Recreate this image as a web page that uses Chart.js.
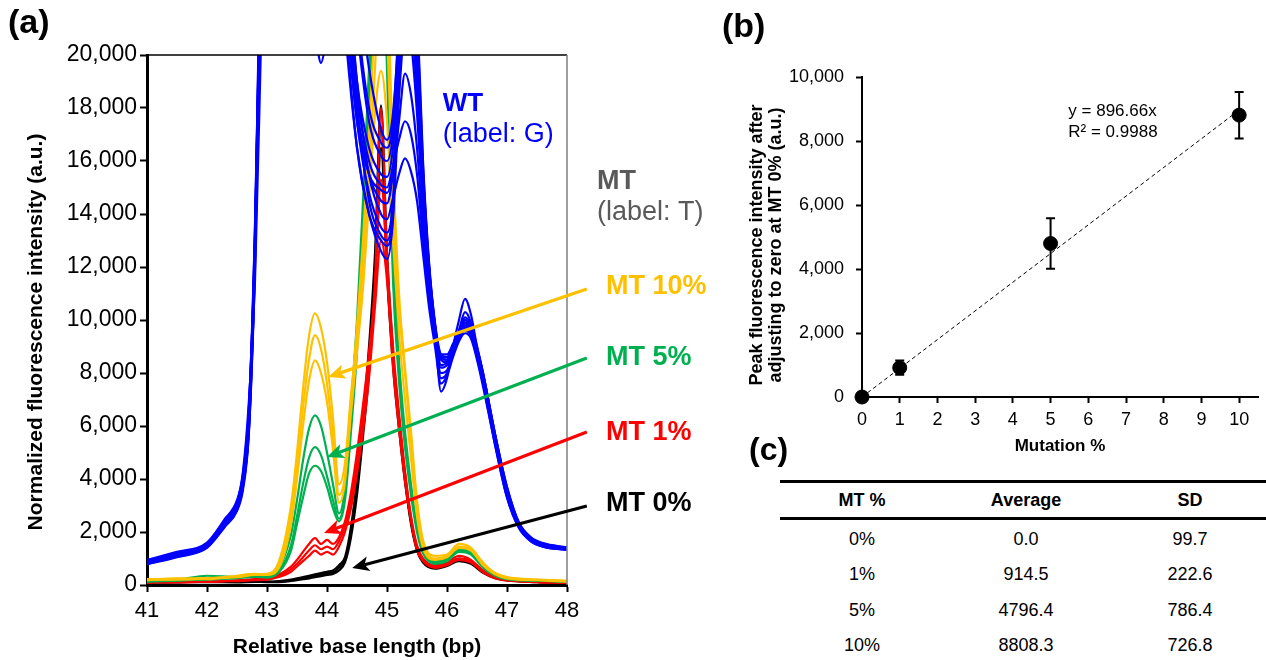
<!DOCTYPE html>
<html>
<head>
<meta charset="utf-8">
<script src="https://cdn.jsdelivr.net/npm/chart.js@4.4.1/dist/chart.umd.min.js"></script>
<style>
  html, body { margin: 0; padding: 0; background: #fff; }
  body { width: 1266px; height: 660px; position: relative; overflow: hidden;
         font-family: 'Liberation Sans', Arial, sans-serif; color: #000; }
  #boxA { position: absolute; left: 0; top: 0; width: 720px; height: 660px; }
  #boxB { position: absolute; left: 700px; top: 0; width: 566px; height: 470px; }
  .panel { position: absolute; font-weight: bold; font-size: 34px; line-height: 34px; }
  .rule { position: absolute; left: 780px; width: 492px; height: 3px; background: #000; }
  .row { position: absolute; left: 780px; width: 492px; height: 36px; line-height: 36px;
         display: flex; font-size: 18px; }
  .row div { width: 164px; text-align: center; }
  .head { font-weight: bold; }
</style>
</head>
<body>
<div id="boxA"><canvas id="chartA"></canvas></div>
<div id="boxB"><canvas id="chartB"></canvas></div>
<div class="panel" style="left:8px; top:4px;">(a)</div>
<div class="panel" style="left:722px; top:8px;">(b)</div>
<div class="panel" style="left:749px; top:433px; font-size:32px; line-height:32px;">(c)</div>
<div id="tableC"></div>

<script>
// ---------- panel (a): electropherogram ----------
const bpTicks = [41, 42, 43, 44, 45, 46, 47, 48];
const intensityTicks = [0, 2000, 4000, 6000, 8000, 10000, 12000, 14000, 16000, 18000, 20000];

// MT traces (label T), read at these base positions
const mtGrid = [41.0, 41.5, 42.0, 42.5, 42.8, 43.0, 43.2, 43.4, 43.5, 43.6, 43.7, 43.8, 43.9,
                44.0, 44.1, 44.2, 44.3, 44.4, 44.5, 44.6, 44.7, 44.8, 44.9, 45.0, 45.1, 45.2,
                45.3, 45.4, 45.5, 45.6, 45.8, 46.0, 46.2, 46.4, 46.6, 46.8, 47.0, 47.5, 48.0];

const mt10 = [
  [200, 250, 220, 330, 400, 420, 900, 3000, 5000, 7400, 9400, 10250, 9700, 8400, 6300, 3800, 4600, 7200, 9400, 12000, 15500, 19500, 24000, 21000, 14500, 10500, 8000, 5500, 3000, 1600, 1000, 1100, 1450, 1350, 800, 450, 300, 200, 150],
  [180, 230, 260, 300, 380, 400, 750, 2700, 4500, 6700, 8500, 9430, 8900, 7600, 5600, 3400, 4100, 6500, 8800, 11200, 14500, 17800, 19400, 17500, 13000, 9500, 7000, 4800, 2600, 1400, 950, 1050, 1400, 1300, 750, 400, 250, 180, 130],
  [220, 200, 240, 350, 420, 380, 650, 2300, 4000, 6000, 7700, 8480, 8000, 6900, 5100, 3100, 3900, 6800, 9800, 13000, 17000, 21500, 27000, 23500, 16000, 11000, 8200, 5800, 3200, 1700, 1100, 1150, 1550, 1400, 850, 450, 280, 200, 160]
];
const mt5 = [
  [150, 200, 350, 300, 350, 330, 650, 1900, 3200, 4700, 5900, 6400, 6000, 5000, 3800, 2700, 3700, 6800, 10000, 14500, 19500, 25000, 28000, 22000, 13000, 8500, 5800, 3800, 2200, 1300, 900, 1000, 1350, 1250, 750, 400, 250, 180, 130],
  [120, 180, 200, 280, 330, 300, 550, 1500, 2600, 3800, 4800, 5200, 4900, 4100, 3200, 2500, 3400, 6200, 9300, 13500, 18500, 23000, 26000, 20500, 12000, 8000, 5500, 3600, 2100, 1250, 850, 950, 1300, 1200, 700, 380, 230, 170, 120],
  [140, 160, 230, 260, 310, 280, 480, 1300, 2300, 3300, 4200, 4500, 4300, 3700, 2900, 2400, 3200, 5800, 8800, 13000, 18000, 22500, 25000, 19500, 11500, 7700, 5200, 3400, 2000, 1200, 800, 900, 1250, 1150, 650, 350, 220, 160, 120]
];
const mt1 = [
  [100, 150, 120, 180, 220, 250, 400, 700, 950, 1250, 1550, 1770, 1550, 1700, 1550, 1800, 2400, 3500, 5000, 6800, 8800, 11500, 18000, 12500, 9000, 6500, 4300, 2600, 1500, 1000, 750, 850, 1100, 950, 550, 300, 200, 130, 100],
  [80, 120, 150, 150, 200, 220, 350, 600, 800, 1050, 1300, 1500, 1350, 1450, 1350, 1650, 2200, 3200, 4600, 6300, 8300, 11000, 15300, 12000, 8500, 6200, 4100, 2500, 1400, 950, 700, 800, 1000, 900, 500, 280, 180, 120, 90],
  [120, 100, 130, 170, 180, 200, 300, 500, 700, 900, 1100, 1300, 1150, 1250, 1150, 1450, 2000, 2900, 4200, 5800, 7800, 10500, 13000, 11500, 8200, 5900, 3900, 2400, 1300, 900, 650, 750, 950, 850, 480, 260, 170, 110, 80]
];
const mt0 = [
  [120, 100, 150, 150, 150, 130, 150, 200, 250, 300, 350, 400, 450, 500, 550, 750, 1050, 2200, 4000, 6300, 9000, 12500, 18100, 12500, 8800, 6300, 4200, 2500, 1400, 950, 700, 800, 1000, 900, 550, 300, 200, 130, 100],
  [100, 120, 130, 120, 130, 120, 130, 180, 220, 260, 300, 350, 380, 450, 480, 650, 950, 2000, 3700, 6000, 8500, 12000, 17300, 12000, 8500, 6100, 4000, 2400, 1350, 900, 650, 750, 950, 850, 500, 280, 180, 120, 90],
  [90, 110, 110, 100, 120, 110, 110, 150, 180, 220, 250, 300, 330, 380, 420, 550, 850, 1800, 3400, 5600, 8000, 11500, 16500, 11800, 8300, 5900, 3900, 2300, 1300, 850, 620, 720, 900, 800, 460, 260, 170, 110, 80]
];

// WT traces (label G), values above 20,000 run off the top of the plot
const wtGrid = [41.0, 41.5, 42.0, 42.3, 42.5, 42.6, 42.7, 42.8, 42.9, 43.0, 43.5, 43.8, 43.9, 44.0,
                44.3, 44.5, 44.7, 44.9, 45.0, 45.1, 45.2, 45.3, 45.4, 45.5, 45.6, 45.7, 45.8, 45.9,
                46.0, 46.1, 46.2, 46.3, 46.4, 46.5, 46.6, 46.8, 47.0, 47.2, 47.4, 47.6, 48.0];

const wt = [
  [820, 1100, 1450, 2300, 2900, 3800, 6000, 12500, 23000, 30000, 34000, 32000, 31000, 30000, 21000, 16500, 14000, 12600, 12300, 13800, 18500, 24000, 25000, 20000, 15500, 12000, 9800, 8500, 8400, 8900, 9400, 9900, 9600, 8800, 7900, 5500, 3500, 2250, 1750, 1550, 1400],
  [900, 1200, 1550, 2400, 3000, 4000, 6500, 13500, 24000, 31000, 35000, 33000, 32000, 31000, 22500, 17500, 14800, 13500, 13300, 14500, 19000, 23500, 24000, 19500, 15000, 11500, 9500, 7300, 7800, 9000, 10000, 10800, 10200, 9000, 8000, 5700, 3600, 2300, 1750, 1550, 1400],
  [860, 1150, 1500, 2350, 3100, 4300, 7000, 11500, 20500, 30000, 33000, 31000, 30000, 29000, 23000, 18000, 15500, 14500, 14400, 15500, 17500, 19300, 18500, 16500, 13500, 11000, 9400, 8200, 8300, 8800, 9300, 9700, 9500, 8700, 7700, 5400, 3400, 2200, 1700, 1500, 1350],
  [780, 1050, 1400, 2200, 2800, 3600, 5800, 12000, 22500, 30000, 33000, 32000, 31000, 30000, 24000, 19000, 16500, 15500, 15400, 16500, 19500, 22000, 21500, 18500, 14500, 11500, 9600, 8600, 8600, 9000, 9500, 9900, 9600, 8800, 7800, 5500, 3500, 2250, 1700, 1500, 1350],
  [950, 1250, 1600, 2500, 3200, 4200, 6800, 13000, 24000, 31000, 34000, 33000, 32000, 31000, 27000, 23000, 19500, 17200, 16800, 17800, 21000, 25000, 24500, 20500, 15500, 12000, 9800, 8700, 8700, 9100, 9600, 10100, 9800, 9000, 8000, 5700, 3700, 2350, 1780, 1550, 1400],
  [840, 1130, 1480, 2300, 2950, 3900, 6200, 12800, 23500, 30000, 33000, 31500, 30500, 29500, 23500, 18500, 16000, 15100, 15000, 15800, 16800, 17500, 17000, 15500, 13000, 10800, 9200, 8000, 8100, 8700, 9300, 9600, 9400, 8600, 7600, 5300, 3300, 2150, 1650, 1450, 1330],
  [880, 1180, 1520, 2380, 3050, 4100, 6600, 13200, 24000, 30500, 33500, 32000, 31000, 30000, 24500, 19000, 15500, 14000, 13800, 14600, 15500, 16100, 15600, 14500, 12500, 10500, 9000, 7600, 7900, 8600, 9200, 9500, 9300, 8500, 7500, 5300, 3300, 2150, 1650, 1450, 1320],
  [800, 1080, 1430, 2250, 2850, 3700, 5900, 12200, 22800, 30000, 33000, 32000, 31000, 30000, 25500, 21000, 17500, 16200, 16000, 17000, 20000, 23000, 22500, 19000, 15000, 11800, 9700, 8600, 8500, 8900, 9400, 9800, 9500, 8700, 7800, 5500, 3500, 2250, 1700, 1500, 1350],
  [920, 1220, 1570, 2450, 3100, 4100, 6700, 13600, 24500, 31000, 35000, 33000, 32000, 31000, 21500, 16500, 14000, 13000, 12800, 14000, 20000, 27000, 28000, 22000, 16000, 12200, 9900, 8700, 8600, 9000, 9500, 10000, 9700, 8900, 8000, 5700, 3700, 2350, 1800, 1580, 1420],
  [870, 1160, 1500, 2350, 3000, 3950, 6300, 12900, 23500, 30500, 34000, 32500, 31500, 30500, 26500, 21500, 18000, 16700, 16500, 17500, 21500, 26500, 27000, 21500, 15800, 12100, 9800, 8300, 8400, 8900, 9500, 10000, 9700, 8900, 7900, 5600, 3600, 2300, 1750, 1520, 1380],
  [810, 1090, 1440, 2280, 2880, 3750, 6000, 12400, 23000, 30000, 33000, 31500, 30500, 29500, 22000, 17500, 15500, 14900, 14800, 15800, 18500, 21000, 20500, 17800, 14200, 11300, 9500, 7800, 8000, 8800, 9600, 10300, 9900, 8900, 7900, 5600, 3600, 2300, 1750, 1520, 1370],
  [890, 1190, 1540, 2400, 3050, 4050, 6400, 13000, 24000, 24500, 22500, 20800, 19700, 20700, 23000, 18000, 14500, 13200, 13000, 14300, 19500, 24500, 25000, 20000, 15200, 11800, 9700, 8600, 8500, 8900, 9400, 9800, 9600, 8800, 7800, 5500, 3500, 2250, 1700, 1500, 1360]
];

// ---------- panels (b) and (c): peak height vs mutation % ----------
const mutPct = [0, 1, 5, 10];
const mtRowLabels = ['0%', '1%', '5%', '10%'];
const peakAvg = [0.0, 914.5, 4796.4, 8808.3];
const peakSD = [99.7, 222.6, 786.4, 726.8];
const fitX = [0, 10];
const fitY = [0, 8966.6];
const fitText = ['y = 896.66x', 'R\u00b2 = 0.9988'];
const mutTicks = [0, 1, 2, 3, 4, 5, 6, 7, 8, 9, 10];
const peakTicks = [0, 2000, 4000, 6000, 8000, 10000];

const FONT = "'Liberation Sans', Arial, sans-serif";
Chart.defaults.font.family = FONT;
Chart.defaults.color = '#000';

const COLORS = { wt: '#0000FF', mt10: '#FFC000', mt5: '#00B050', mt1: '#FF0000', mt0: '#000000', mtGrey: '#595959' };
const commas = v => String(v).replace(/\B(?=(\d{3})+(?!\d))/g, ',');

function traceSets(grid, traces, color) {
  return traces.map(t => ({
    data: grid.map((x, i) => ({ x, y: t[i] })),
    borderColor: color,
    borderWidth: 2.2,
    pointRadius: 0,
    fill: false,
    cubicInterpolationMode: 'monotone'
  }));
}

// rotated axis title drawn at a fixed spot of the canvas
function drawYTitle(ctx, lines, x, y, size, lineGap) {
  ctx.save();
  ctx.font = 'bold ' + size + 'px ' + FONT;
  ctx.fillStyle = '#000';
  ctx.textAlign = 'center';
  ctx.textBaseline = 'middle';
  lines.forEach((t, i) => {
    ctx.save();
    ctx.translate(x + i * lineGap, y);
    ctx.rotate(-Math.PI / 2);
    ctx.fillText(t, 0, 0);
    ctx.restore();
  });
  ctx.restore();
}

// arrows and text labels for panel (a), placed in data units
const arrowsA = [
  { color: COLORS.mt10, from: [48.33, 11170], to: [44.02, 7850] },
  { color: COLORS.mt5,  from: [48.33, 8570],  to: [44.0, 4830] },
  { color: COLORS.mt1,  from: [48.33, 5770],  to: [43.95, 1960] },
  { color: COLORS.mt0,  from: [48.33, 2980],  to: [44.42, 640] }
];
const labelsA = [
  { text: 'WT',         x: 45.93, y: 18150, color: COLORS.wt,     font: 'bold 26px' },
  { text: '(label: G)', x: 45.93, y: 16980, color: COLORS.wt,     font: '27px' },
  { text: 'MT',         x: 48.5,  y: 15210, color: COLORS.mtGrey, font: 'bold 27px' },
  { text: '(label: T)', x: 48.5,  y: 14060, color: COLORS.mtGrey, font: '27px' },
  { text: 'MT 10%',     x: 48.65, y: 11250, color: COLORS.mt10,   font: 'bold 27px' },
  { text: 'MT 5%',      x: 48.65, y: 8570,  color: COLORS.mt5,    font: 'bold 27px' },
  { text: 'MT 1%',      x: 48.65, y: 5770,  color: COLORS.mt1,    font: 'bold 27px' },
  { text: 'MT 0%',      x: 48.65, y: 3090,  color: COLORS.mt0,    font: 'bold 27px' }
];

const frameA = {
  id: 'frameA',
  afterDatasetsDraw(chart) {
    const { ctx, chartArea: a } = chart;
    ctx.save();
    ctx.lineWidth = 1.5;
    ctx.strokeStyle = '#000';
    ctx.beginPath(); ctx.moveTo(a.left, a.top); ctx.lineTo(a.right, a.top); ctx.stroke();
    ctx.strokeStyle = '#7f7f7f';
    ctx.beginPath(); ctx.moveTo(a.right, a.top); ctx.lineTo(a.right, a.bottom); ctx.stroke();
    ctx.restore();
  },
  afterDraw(chart) {
    const { ctx, chartArea: area, scales: { x, y } } = chart;
    drawYTitle(ctx, ['Normalized fluorescence intensity (a.u.)'], 36, (area.top + area.bottom) / 2 + 12, 21, 0);
    ctx.save();
    arrowsA.forEach(a => {
      const x0 = x.getPixelForValue(a.from[0]), y0 = y.getPixelForValue(a.from[1]);
      const x1 = x.getPixelForValue(a.to[0]), y1 = y.getPixelForValue(a.to[1]);
      const ang = Math.atan2(y1 - y0, x1 - x0);
      const L = 17, W = 7.5;
      const bx = x1 - Math.cos(ang) * L * 0.75, by = y1 - Math.sin(ang) * L * 0.75;
      ctx.strokeStyle = a.color; ctx.fillStyle = a.color; ctx.lineWidth = 3.2;
      ctx.beginPath(); ctx.moveTo(x0, y0); ctx.lineTo(bx, by); ctx.stroke();
      ctx.beginPath();
      ctx.moveTo(x1, y1);
      ctx.lineTo(x1 - Math.cos(ang) * L + Math.sin(ang) * W, y1 - Math.sin(ang) * L - Math.cos(ang) * W);
      ctx.lineTo(bx, by);
      ctx.lineTo(x1 - Math.cos(ang) * L - Math.sin(ang) * W, y1 - Math.sin(ang) * L + Math.cos(ang) * W);
      ctx.closePath(); ctx.fill();
    });
    ctx.textAlign = 'left';
    ctx.textBaseline = 'middle';
    labelsA.forEach(l => {
      ctx.font = l.font + ' ' + FONT;
      ctx.fillStyle = l.color;
      ctx.fillText(l.text, x.getPixelForValue(l.x), y.getPixelForValue(l.y));
    });
    ctx.restore();
  }
};

new Chart(document.getElementById('chartA'), {
  type: 'line',
  data: {
    datasets: [
      ...traceSets(wtGrid, wt, COLORS.wt),
      ...traceSets(mtGrid, mt10, COLORS.mt10),
      ...traceSets(mtGrid, mt5, COLORS.mt5),
      ...traceSets(mtGrid, mt1, COLORS.mt1),
      ...traceSets(mtGrid, mt0, COLORS.mt0)
    ]
  },
  options: {
    responsive: true,
    maintainAspectRatio: false,
    animation: false,
    events: [],
    layout: { padding: { top: 55, right: 153, left: 0, bottom: 0 } },
    plugins: { legend: { display: false }, tooltip: { enabled: false } },
    scales: {
      x: {
        type: 'linear', min: 41, max: 48,
        afterBuildTicks: s => { s.ticks = bpTicks.map(v => ({ value: v })); },
        afterFit: s => { s.height = 75; },
        grid: { display: true, drawOnChartArea: false, drawTicks: true, tickLength: 7, tickWidth: 2, tickColor: '#000' },
        border: { display: true, color: '#000', width: 3 },
        ticks: { autoSkip: false, maxRotation: 0, padding: 6, color: '#000', font: { size: 22 } },
        title: { display: true, text: 'Relative base length (bp)', color: '#000',
                 font: { size: 21, weight: 'bold' }, padding: { top: 0, bottom: 0 } }
      },
      y: {
        min: 0, max: 20000,
        afterBuildTicks: s => { s.ticks = intensityTicks.map(v => ({ value: v })); },
        afterFit: s => { s.width = 147; },
        grid: { display: true, drawOnChartArea: false, drawTicks: true, tickLength: 7, tickWidth: 2, tickColor: '#000' },
        border: { display: true, color: '#000', width: 3 },
        ticks: { autoSkip: false, padding: 3, color: '#000', font: { size: 23 }, callback: v => commas(v) },
        title: { display: false }
      }
    }
  },
  plugins: [frameA]
});

// ---------- panel (b) ----------
const errB = {
  id: 'errB',
  beforeDatasetsDraw(chart) {
    const { ctx, scales: { x, y } } = chart;
    ctx.save();
    ctx.strokeStyle = '#000';
    ctx.lineWidth = 2;
    mutPct.forEach((m, i) => {
      const px = x.getPixelForValue(m);
      const top = y.getPixelForValue(peakAvg[i] + peakSD[i]);
      const bot = y.getPixelForValue(peakAvg[i] - peakSD[i]);
      ctx.beginPath();
      ctx.moveTo(px, top); ctx.lineTo(px, bot);
      ctx.moveTo(px - 4.5, top); ctx.lineTo(px + 4.5, top);
      ctx.moveTo(px - 4.5, bot); ctx.lineTo(px + 4.5, bot);
      ctx.stroke();
    });
    ctx.restore();
  },
  afterDraw(chart) {
    const { ctx, scales: { x, y } } = chart;
    drawYTitle(ctx, ['Peak fluorescence intensity after', 'adjusting to zero at MT 0% (a.u.)'], 57, 245, 18, 19);
    ctx.save();
    ctx.font = '17px ' + FONT;
    ctx.fillStyle = '#000';
    ctx.textAlign = 'left';
    ctx.textBaseline = 'middle';
    ctx.fillText(fitText[0], x.getPixelForValue(5.47), y.getPixelForValue(8920));
    ctx.fillText(fitText[1], x.getPixelForValue(5.47), y.getPixelForValue(8260));
    ctx.restore();
  }
};

new Chart(document.getElementById('chartB'), {
  type: 'scatter',
  data: {
    datasets: [
      { data: mutPct.map((x, i) => ({ x, y: peakAvg[i] })), pointRadius: 7, pointBackgroundColor: '#000',
        pointBorderColor: '#000', showLine: false, clip: false, order: 0 },
      { type: 'line', data: fitX.map((x, i) => ({ x, y: fitY[i] })), borderColor: '#000', borderWidth: 1,
        borderDash: [4, 3], pointRadius: 0, fill: false, order: 1 }
    ]
  },
  options: {
    responsive: true,
    maintainAspectRatio: false,
    animation: false,
    events: [],
    layout: { padding: { top: 77, right: 1, left: 0, bottom: 0 } },
    plugins: { legend: { display: false }, tooltip: { enabled: false } },
    scales: {
      x: {
        type: 'linear', min: 0, max: 10.5,
        afterBuildTicks: s => { s.ticks = mutTicks.map(v => ({ value: v })); },
        afterFit: s => { s.height = 73; },
        grid: { display: true, drawOnChartArea: false, drawTicks: true, tickLength: 6, tickWidth: 2, tickColor: '#000' },
        border: { display: true, color: '#000', width: 2 },
        ticks: { autoSkip: false, maxRotation: 0, padding: 6, color: '#000', font: { size: 18 } },
        title: { display: true, text: 'Mutation %', color: '#000', font: { size: 17, weight: 'bold' },
                 padding: { top: 0, bottom: 13 } }
      },
      y: {
        min: 0, max: 10000,
        afterBuildTicks: s => { s.ticks = peakTicks.map(v => ({ value: v })); },
        afterFit: s => { s.width = 162; },
        grid: { display: true, drawOnChartArea: false, drawTicks: true, tickLength: 6, tickWidth: 2, tickColor: '#000' },
        border: { display: true, color: '#000', width: 2 },
        ticks: { autoSkip: false, padding: 12, color: '#000', font: { size: 18 }, callback: v => commas(v) },
        title: { display: false }
      }
    }
  },
  plugins: [errB]
});

// ---------- panel (c): table ----------
const tableC = document.getElementById('tableC');
let html = '<div class="rule" style="top:480px"></div>';
html += '<div class="row head" style="top:483px; height:34px; line-height:34px;"><div>MT %</div><div>Average</div><div>SD</div></div>';
html += '<div class="rule" style="top:517px"></div>';
mtRowLabels.forEach((lab, i) => {
  const top = 521 + i * 35.3;
  html += `<div class="row" style="top:${top}px"><div>${lab}</div><div>${peakAvg[i].toFixed(1)}</div><div>${peakSD[i].toFixed(1)}</div></div>`;
});
tableC.innerHTML = html;
</script>
</body>
</html>
